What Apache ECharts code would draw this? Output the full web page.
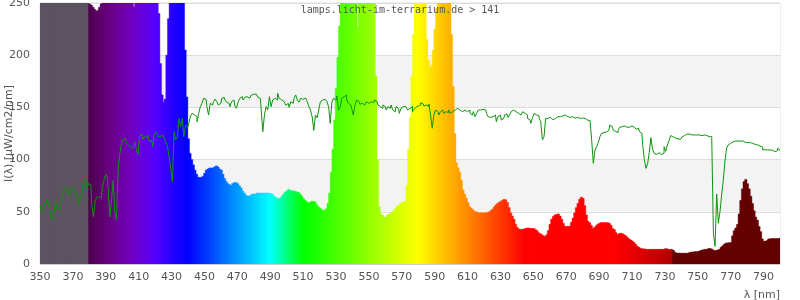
<!DOCTYPE html>
<html><head><meta charset="utf-8">
<script src="https://cdn.jsdelivr.net/npm/echarts@6/dist/echarts.min.js"></script>
<style>html,body{margin:0;padding:0;background:#fff}#c{width:800px;height:300px}</style>
</head><body><div id="c"></div>
<script>
// ---- data ----
const titleText = 'lamps.licht-im-terrarium.de > 141';
const xAxisName = 'λ [nm]';
const yAxisName = 'I(λ) [μW/cm2/nm]';
const wlStart = 350;           // first wavelength (nm), 1 nm steps
const xTicksMin = 350, xTicksMax = 800, xTickStep = 20;
const yTicksMin = 0, yTicksMax = 250, yTickStep = 50;

// lamp spectrum, 350..800 nm (values above 250 are off the chart)
const lampValues = [
/*350*/ 300,300,300,300,300,300,300,300,300,300,
/*360*/ 300,300,300,300,300,300,300,300,300,300,
/*370*/ 300,300,300,300,300,300,300,300,300,300,
/*380*/ 249,248,246,244,242,243,246,249,300,300,
/*390*/ 300,300,300,300,300,300,300,300,300,300,
/*400*/ 300,300,300,300,300,300,262,246,262,300,
/*410*/ 300,300,300,300,300,300,300,300,300,300,
/*420*/ 300,300,240,192,162,155,158,200,235,300,
/*430*/ 300,300,300,300,300,300,300,280,205,160,
/*440*/ 120,106,100,95,90,86,83,83,83,84,
/*450*/ 87,90,91,92,92,92,93,94,93,91,
/*460*/ 90,86,82,79,77,76,75,77,78,78,
/*470*/ 77,75,73,70,68,66,65,65,66,67,
/*480*/ 67,67,68,68,68,68,68,68,68,68,
/*490*/ 67.5,67,65,64,63,62.5,63,65,67,69,
/*500*/ 70,71.5,70.5,70,70,69.5,69,68.5,67,65,
/*510*/ 62.5,61,59.5,58.5,59,60,60,59.5,57,55,
/*520*/ 53.5,52.5,51,51.5,53,58,68,88,110,138,
/*530*/ 168,198,228,255,300,300,300,300,300,300,
/*540*/ 300,300,270,227,270,300,300,300,300,300,
/*550*/ 300,300,300,270,180,100,55,48,47,45,
/*560*/ 45,47,48,48,50,51,53,55,56,58,
/*570*/ 59,59,60,75,110,140,180,220,255,300,
/*580*/ 300,300,300,300,250,215,195,187,190,205,
/*590*/ 225,245,300,300,300,300,300,300,300,255,
/*600*/ 220,170,125,97,92,88,80,71,67,63,
/*610*/ 59,55,53.5,52,50.5,50,49.5,49,49,49,
/*620*/ 49,49,49.5,50,51,52.5,54.5,56.5,58,59,
/*630*/ 60,61,62,61.5,59,54,49,46,43,38,
/*640*/ 35,33.5,33,33,33.5,34,34.5,34.5,34,34,
/*650*/ 34,33,32,30,29,28,27,26,28,32,
/*660*/ 38,43,45.5,47,47.5,48,46,43,39,36,
/*670*/ 36,36,36,40,44,49,54,58,62,64,
/*680*/ 63,56,47,41,39.5,37,34,35,36.5,38,
/*690*/ 39,39.6,39.6,39.6,39.6,39.6,39,37,34,33,
/*700*/ 30,28,29,29.5,29,28,27,25.5,24,23,
/*710*/ 22,20.5,19,17,16,15,14.5,14.5,14.3,14,
/*720*/ 14,14,14,14,14,14,14,14,14,14,
/*730*/ 14.6,14.6,14,14,14,13,11,10.5,10.5,10.3,
/*740*/ 10.3,10.3,10.3,10.3,10.5,11,11.5,11.5,11.8,11.8,
/*750*/ 12,12.5,13.2,13.5,14,14,14.5,15,14.5,13.5,
/*760*/ 13,12.8,13.5,14,16,17.5,19,20,20.2,20.4,
/*770*/ 20.4,27,32,34.5,38,48,61,72,79,81,
/*780*/ 77,72,65,58,51,45,42,36,31,24,
/*790*/ 21.5,22,22.5,24,24.2,24.3,24.3,24.3,24.3,24.3,
/*800*/ 25
];

// green reference curve, 350..800 nm
const refValues = [
/*350*/ 55.6,53.5,49.5,56,61,60,55,48.5,42,48,
/*360*/ 59,53,52.5,59,61,71,73.5,69.5,66,73.5,
/*370*/ 73,69.5,68,62,56.5,62.5,67.5,80,82,73,
/*380*/ 77,75.7,55,45.3,60,64,64.5,63,69,77.9,
/*390*/ 83.7,86.2,72.5,45,61.3,80,50,42,90,105,
/*400*/ 115.6,119,120.4,116,114,112.4,110.8,112.4,117.2,110.8,
/*410*/ 104.4,122,124.5,119.4,122,121,123.6,117.2,118.8,112.4,
/*420*/ 125.2,126.8,122,122,123.6,122,120,117.2,112.4,102.8,
/*430*/ 91.6,78.9,126.8,118.8,122,139.5,131.5,139.5,122,133.1,
/*440*/ 131.5,134.7,141.8,144.3,142.7,141.1,136.3,144.3,150.7,153.9,
/*450*/ 158.7,157.7,150.7,142.7,153.9,152.3,155.5,158,155.5,152.3,
/*460*/ 153.9,158.7,159.6,157.1,154.9,153.9,150.7,155.5,157.1,151.3,
/*470*/ 149.1,155.5,158.7,160.3,157.1,159.6,160.3,158.7,160.3,161.9,
/*480*/ 162.5,162.8,161.9,159.6,158.7,147.5,126.8,142.7,150.7,147.5,
/*490*/ 160.3,150.7,157.1,158.7,157.1,163.5,158.7,157.1,155.5,155.5,
/*500*/ 152,153.9,150,155.5,153.9,158.7,161.9,157.1,155,158.7,
/*510*/ 157.7,159,158.7,155.5,151,147.5,141.1,128,142.7,140,
/*520*/ 147.5,155.5,157.1,157.7,157.1,155.5,150.7,134.7,155,158.7,
/*530*/ 157.1,161,147.5,150,158.7,160.3,161.9,157.1,153.9,152.3,
/*540*/ 149.1,142.7,152,157.1,155.5,153,153.9,152.3,153.9,155.5,
/*550*/ 153.9,155.5,157.1,154.5,157.1,155.5,152.3,150.7,149.1,152.3,
/*560*/ 150.7,147.5,150.7,149.1,152.3,147.5,145.9,150.7,149.1,144.3,
/*570*/ 149.1,150.7,150.7,149.1,147.5,149.1,150.7,146,148,150,
/*580*/ 151.3,152.3,154.5,153.3,151.3,152.3,150.7,153.3,142.7,130,
/*590*/ 142.7,147.5,145.9,142.7,145.9,147.5,144.3,145.9,145,147.5,
/*600*/ 144.3,145.9,147.5,149.1,149.1,147.5,148.1,145.9,147.5,147.5,
/*610*/ 145.9,147.5,144.3,142.7,145.9,141.1,144.3,147.5,147.5,148.1,
/*620*/ 147.5,147.5,144.3,141.1,140.5,141.1,139.5,142.7,136.3,141.1,
/*630*/ 142.7,137.9,139.5,142.7,143.7,140.5,142.7,146,147.5,145.9,
/*640*/ 144.3,144.3,142.7,144.3,145.9,144.3,142.7,139.5,137.9,134.7,
/*650*/ 140,144.3,142.7,141.8,139.5,136.3,118.8,122,139.5,139.5,
/*660*/ 140.5,138.6,138,139.5,140.5,141.1,141.1,141.8,141.8,142.7,
/*670*/ 141.1,141.1,140.5,140.5,141.1,139.8,140,140.5,139.5,139.5,
/*680*/ 139.8,139.5,138.6,137.9,137.3,135.4,118,96.4,109.2,112.4,
/*690*/ 116.2,122,125.2,125.8,126.5,125.2,128,133.1,131.5,128.4,
/*700*/ 127,125.8,128,130.9,131.5,132.2,131.5,131,131,131.5,
/*710*/ 132.2,131,130,129,130,126.8,125.2,114,100,91.6,
/*720*/ 96,107,121,110,106,105,106.5,107,105,106,
/*730*/ 112.4,108,114,118,123,122,120.5,120.4,120,119.4,
/*740*/ 121,122,123,124.5,125.2,124.5,123.6,123.6,123.6,123.6,
/*750*/ 123,123.6,123,123.6,123.6,123,122.5,122,122,120,
/*760*/ 29,17,67,39,50,66,80,98,111,114,
/*770*/ 115.6,117,117.5,117.8,117.8,117.8,117.8,117.8,117.5,116.5,
/*780*/ 116.2,117,116.2,115.5,114.9,114.5,114,113,113,112,
/*790*/ 109.2,109.5,109.2,109,109.2,109,108.5,107.6,108.5,110.8,
/*800*/ 109
];

if (lampValues.length !== 451 || refValues.length !== 451) {
  throw new Error('length mismatch ' + lampValues.length + ' ' + refValues.length);
}

// ---- styles ----
const uvColor = '#5e5461';
const irColor = '#640000';
function wavelengthColor(wl) {
  if (wl < 380) return uvColor;
  if (wl >= 735) return irColor;
  let r = 0, g = 0, b = 0;
  if (wl < 440) { r = (440 - wl) / 60; b = 1; }
  else if (wl < 490) { g = (wl - 440) / 50; b = 1; }
  else if (wl < 510) { g = 1; b = (510 - wl) / 20; }
  else if (wl < 580) { r = (wl - 510) / 70; g = 1; }
  else if (wl < 645) { r = 1; g = (645 - wl) / 65; }
  else { r = 1; }
  let f = 1;
  if (wl < 420) f = 0.3 + 0.7 * (wl - 380) / 40;
  else if (wl > 700) f = 0.3 + 0.7 * (780 - wl) / 80;
  const c = v => Math.round(255 * v * f);
  return 'rgb(' + c(r) + ',' + c(g) + ',' + c(b) + ')';
}

const lampData = lampValues.map((v, i) => [wlStart + i, v]);
const refData = refValues.map((v, i) => [wlStart + i, v]);

const txt = '#555';
const chart = echarts.init(document.getElementById('c'));
chart.setOption({
  animation: false,
  title: {
    text: titleText, left: 'center', top: 5, padding: 0,
    textStyle: { fontFamily: 'DejaVu Sans Mono', fontSize: 10, fontWeight: 'normal', color: txt }
  },
  grid: {
    left: 40, right: 20, top: 3, bottom: 36, containLabel: false, outerBoundsMode: 'none',
    show: true, borderColor: '#ddd', borderWidth: 1
  },
  xAxis: {
    type: 'value', min: xTicksMin, max: xTicksMax, interval: xTickStep,
    name: xAxisName, nameLocation: 'end', nameGap: 0, nameMoveOverlap: false,
    nameTextStyle: { align: 'right', verticalAlign: 'top', padding: [26, 0, 0, 0], color: txt, fontSize: 11, fontFamily: 'DejaVu Sans' },
    axisLine: { lineStyle: { color: '#ccc' } },
    axisTick: { show: false },
    axisLabel: { color: txt, fontSize: 11, fontFamily: 'DejaVu Sans', showMaxLabel: false, margin: 8 },
    splitLine: { show: false }
  },
  yAxis: {
    type: 'value', min: yTicksMin, max: yTicksMax, interval: yTickStep,
    name: yAxisName, nameLocation: 'middle', nameGap: 25, nameMoveOverlap: false,
    nameTextStyle: { color: txt, fontSize: 11, fontFamily: 'DejaVu Sans' },
    axisLine: { show: true, lineStyle: { color: '#ccc' } },
    axisTick: { show: false },
    axisLabel: { color: txt, fontSize: 11, fontFamily: 'DejaVu Sans', margin: 10 },
    splitLine: { lineStyle: { color: '#ddd' } },
    splitArea: { show: true, areaStyle: { color: ['#ffffff', '#f3f3f3'] } }
  },
  series: [
    {
      type: 'custom', name: 'lamp', data: lampData, clip: true, z: 2,
      encode: { x: 0, y: 1 },
      renderItem: function (params, api) {
        const wl = api.value(0);
        const v = Math.min(api.value(1), yTicksMax);
        const a = api.coord([wl - 0.5, v]);
        const b = api.coord([wl + 0.5, 0]);
        const fill = wavelengthColor(wl);
        return {
          type: 'rect',
          shape: { x: a[0], y: a[1], width: b[0] - a[0] + 0.7, height: b[1] - a[1] },
          style: { fill: fill, stroke: fill, lineWidth: 0.4, opacity: 1 }
        };
      }
    },
    {
      type: 'line', name: 'reference', data: refData, step: 'middle',
      symbol: 'none', z: 3, silent: true,
      lineStyle: { color: '#0a960a', width: 1 }
    }
  ]
});
</script></body></html>
